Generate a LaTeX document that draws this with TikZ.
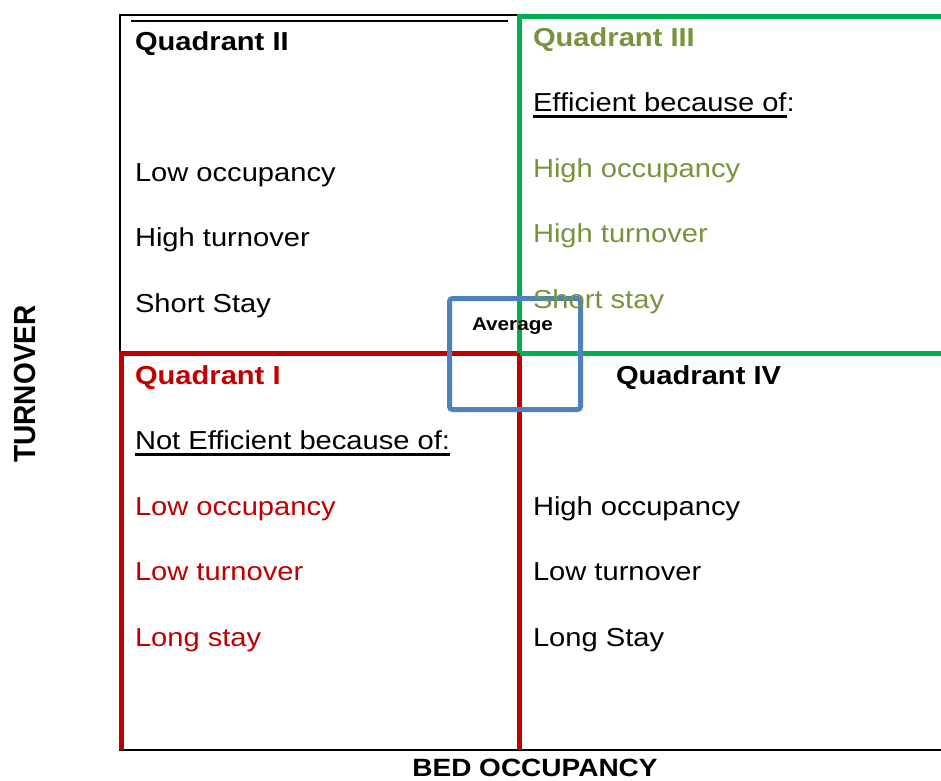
\documentclass[tikz,border=0pt]{standalone}
\usepackage{fontspec}
\setmainfont{Liberation Sans}[FakeStretch=1.12]
\newfontfamily\axisfont{Liberation Sans}[FakeStretch=0.92]
\usetikzlibrary{positioning}
\definecolor{quadred}{HTML}{C00000}
\definecolor{quadgreen}{HTML}{00B050}
\definecolor{quadolive}{HTML}{77933C}
\definecolor{avgblue}{HTML}{4F81BD}
\pgfmathsetmacro{\linegap}{65.5}
\pgfmathsetmacro{\headgap}{2*\linegap}
\newcommand{\ulword}[1]{\setbox0\hbox{#1}\rlap{\rule[-6.5pt]{\wd0}{3pt}}\box0}
\tikzset{
  every node/.style={inner sep=0pt, outer sep=0pt},
  qtext/.style={anchor=base west, font=\fontsize{26}{30}\selectfont},
  qhead/.style={qtext, font=\fontsize{26}{30}\selectfont\bfseries},
  nextline/.style={below=\linegap pt of #1.base west, anchor=base west},
  axisline/.style={draw=black, line width=2.5pt},
  quadline/.style={line width=5pt},
  avgbox/.style={draw=avgblue, line width=5pt, rounded corners=3pt,
    minimum width=131pt, minimum height=111pt},
}

\begin{document}
\begin{tikzpicture}[x=1pt, y=-1pt]
    \useasboundingbox (0,0) rectangle (941,780);
    % define corner points
    % frame and axes
    \coordinate (frame_tl) at (120,15);
    \coordinate (frame_tr) at (517,15);
    \coordinate (inner_l) at (131,21);
    \coordinate (inner_r) at (508,21);
    \coordinate (axis_bl) at (120,750);
    \coordinate (axis_br) at (941,750);
    % quadrant borders
    \coordinate (mid) at (519.5,353);
    \coordinate (red_bl) at (121,750);
    \coordinate (red_tl) at (121,353);
    \coordinate (red_br) at (519.5,750);
    \coordinate (green_tl) at (519.5,16.5);
    \coordinate (green_tr) at (941,16.5);
    \coordinate (green_r) at (941,353);
    % draw frame and borders
    \draw[axisline] (frame_tr) -- (frame_tl) -- (axis_bl) -- (axis_br);
    \draw[line width=1.8pt] (inner_l) -- (inner_r);
    \draw[quadline, quadred] (red_bl) -- (red_tl) -- (mid) -- (red_br);
    \draw[quadline, quadgreen] (mid) -- (green_tl) -- (green_tr);
    \draw[quadline, quadgreen] (mid) -- (green_r);
    \node[avgbox] (avg) at (515,354) {};
    % quadrant II
    \node[qhead] (q2head) at (135,50) {Quadrant II};
    \node[qtext, below=\headgap pt of q2head.base west, anchor=base west] (q2occ) {Low occupancy};
    \node[qtext, nextline=q2occ] (q2turn) {High turnover};
    \node[qtext, nextline=q2turn] (q2stay) {Short Stay};
    % quadrant III
    \node[qhead, quadolive] (q3head) at (533,46) {Quadrant III};
    \node[qtext, nextline=q3head] (q3why) {\ulword{Efficient because of}:};
    \node[qtext, quadolive, nextline=q3why] (q3occ) {High occupancy};
    \node[qtext, quadolive, nextline=q3occ] (q3turn) {High turnover};
    \node[qtext, quadolive, nextline=q3turn] (q3stay) {Short stay};
    % quadrant I
    \node[qhead, quadred] (q1head) at (135,384) {Quadrant I};
    \node[qtext, nextline=q1head] (q1why) {\ulword{Not Efficient because of:}};
    \node[qtext, quadred, nextline=q1why] (q1occ) {Low occupancy};
    \node[qtext, quadred, nextline=q1occ] (q1turn) {Low turnover};
    \node[qtext, quadred, nextline=q1turn] (q1stay) {Long stay};
    % quadrant IV
    \node[qhead] (q4head) at (616,384) {Quadrant IV};
    \node[qtext] (q4occ) at (533,515) {High occupancy};
    \node[qtext, nextline=q4occ] (q4turn) {Low turnover};
    \node[qtext, nextline=q4turn] (q4stay) {Long Stay};
    % add labels
    \node[anchor=base, font=\fontsize{18.5}{22}\selectfont\bfseries] (avglabel) at (512.5,330) {Average};
    \node[anchor=base, font=\fontsize{25}{30}\selectfont\bfseries] (xlabel) at (535,776) {BED OCCUPANCY};
    \node[anchor=base, rotate=90, font=\axisfont\fontsize{30.5}{34}\selectfont\bfseries] (ylabel) at (35,384) {TURNOVER};
\end{tikzpicture}
\end{document}
